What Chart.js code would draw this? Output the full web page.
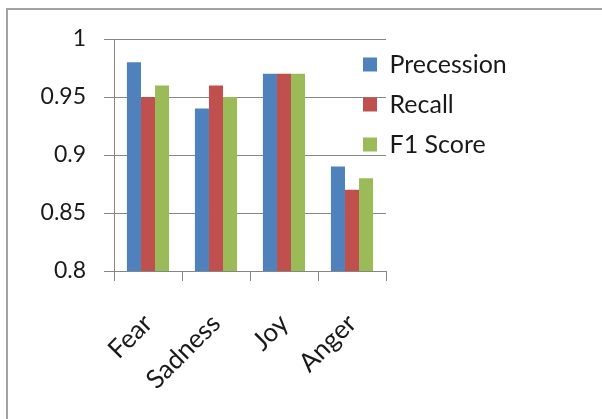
<!DOCTYPE html>
<html>
<head>
<meta charset="utf-8">
<script src="https://cdn.jsdelivr.net/npm/chart.js@4/dist/chart.umd.min.js"></script>
<style>
    html, body { margin: 0; padding: 0; background: #fff; }
    #wrap { position: relative; width: 602px; height: 419px; overflow: hidden; }
    #frame {
        position: absolute; left: 6px; top: 8px; width: 700px; height: 500px;
        border-left: 2px solid #a3a3a3; border-top: 2px solid #a3a3a3;
    }
    #chart { position: absolute; left: 0; top: 0; }
</style>
</head>
<body>
<div id="wrap">
    <div id="frame"></div>
    <canvas id="chart" width="602" height="419"></canvas>
</div>
<script>
// данные
const categories = ['Fear', 'Sadness', 'Joy', 'Anger'];
const precession = [0.98, 0.94, 0.97, 0.89];
const recall = [0.95, 0.96, 0.97, 0.87];
const f1Score = [0.96, 0.95, 0.97, 0.88];
const seriesNames = ['Precession', 'Recall', 'F1 Score'];
const yTicks = [0.8, 0.85, 0.9, 0.95, 1];

const fontFamily = 'Lato, "Open Sans", sans-serif';
const textColor = '#1a1a1a';
const lineColor = '#868686';

// легенда лежит поверх области графика, как в Excel
const moveLegend = {
    id: 'moveLegend',
    afterLayout(chart) {
        const lg = chart.legend;
        if (!lg) return;
        const w = lg.width, h = lg.height;
        lg.left = 348;
        lg.top = 37;
        lg.right = lg.left + w;
        lg.bottom = lg.top + h;
    }
};

const ctx = document.getElementById('chart').getContext('2d');
new Chart(ctx, {
    type: 'bar',
    data: {
        labels: categories,
        datasets: [
            { label: seriesNames[0], data: precession, backgroundColor: '#4F81BD' },
            { label: seriesNames[1], data: recall, backgroundColor: '#C0504D' },
            { label: seriesNames[2], data: f1Score, backgroundColor: '#9BBB59' }
        ]
    },
    options: {
        responsive: false,
        animation: false,
        layout: { padding: { left: 0, top: 39, right: 216, bottom: 0 } },
        datasets: {
            bar: { categoryPercentage: 0.62, barPercentage: 1, borderWidth: 0 }
        },
        plugins: {
            legend: {
                position: 'chartArea',
                align: 'start',
                labels: {
                    boxWidth: 14,
                    boxHeight: 14,
                    padding: 15,
                    color: textColor,
                    font: { family: fontFamily, size: 25 }
                }
            },
            tooltip: { enabled: false }
        },
        scales: {
            x: {
                grid: {
                    offset: true,
                    drawOnChartArea: false,
                    drawTicks: true,
                    tickLength: 10,
                    color: lineColor
                },
                border: { display: true, color: lineColor, width: 1 },
                ticks: {
                    minRotation: 45,
                    maxRotation: 45,
                    padding: 27,
                    color: textColor,
                    font: { family: fontFamily, size: 26 }
                },
                afterFit(scale) { scale.height = 148; }
            },
            y: {
                min: 0.8,
                max: 1,
                afterBuildTicks(scale) {
                    scale.ticks = yTicks.map(v => ({ value: v }));
                },
                grid: { color: lineColor, tickLength: 10, lineWidth: 1 },
                border: { display: true, color: lineColor, width: 1 },
                ticks: {
                    padding: 18,
                    color: textColor,
                    font: { family: fontFamily, size: 23 },
                    callback: v => String(Math.round(v * 100) / 100)
                },
                afterFit(scale) { scale.width = 114; }
            }
        }
    },
    plugins: [moveLegend]
});
</script>
</body>
</html>
